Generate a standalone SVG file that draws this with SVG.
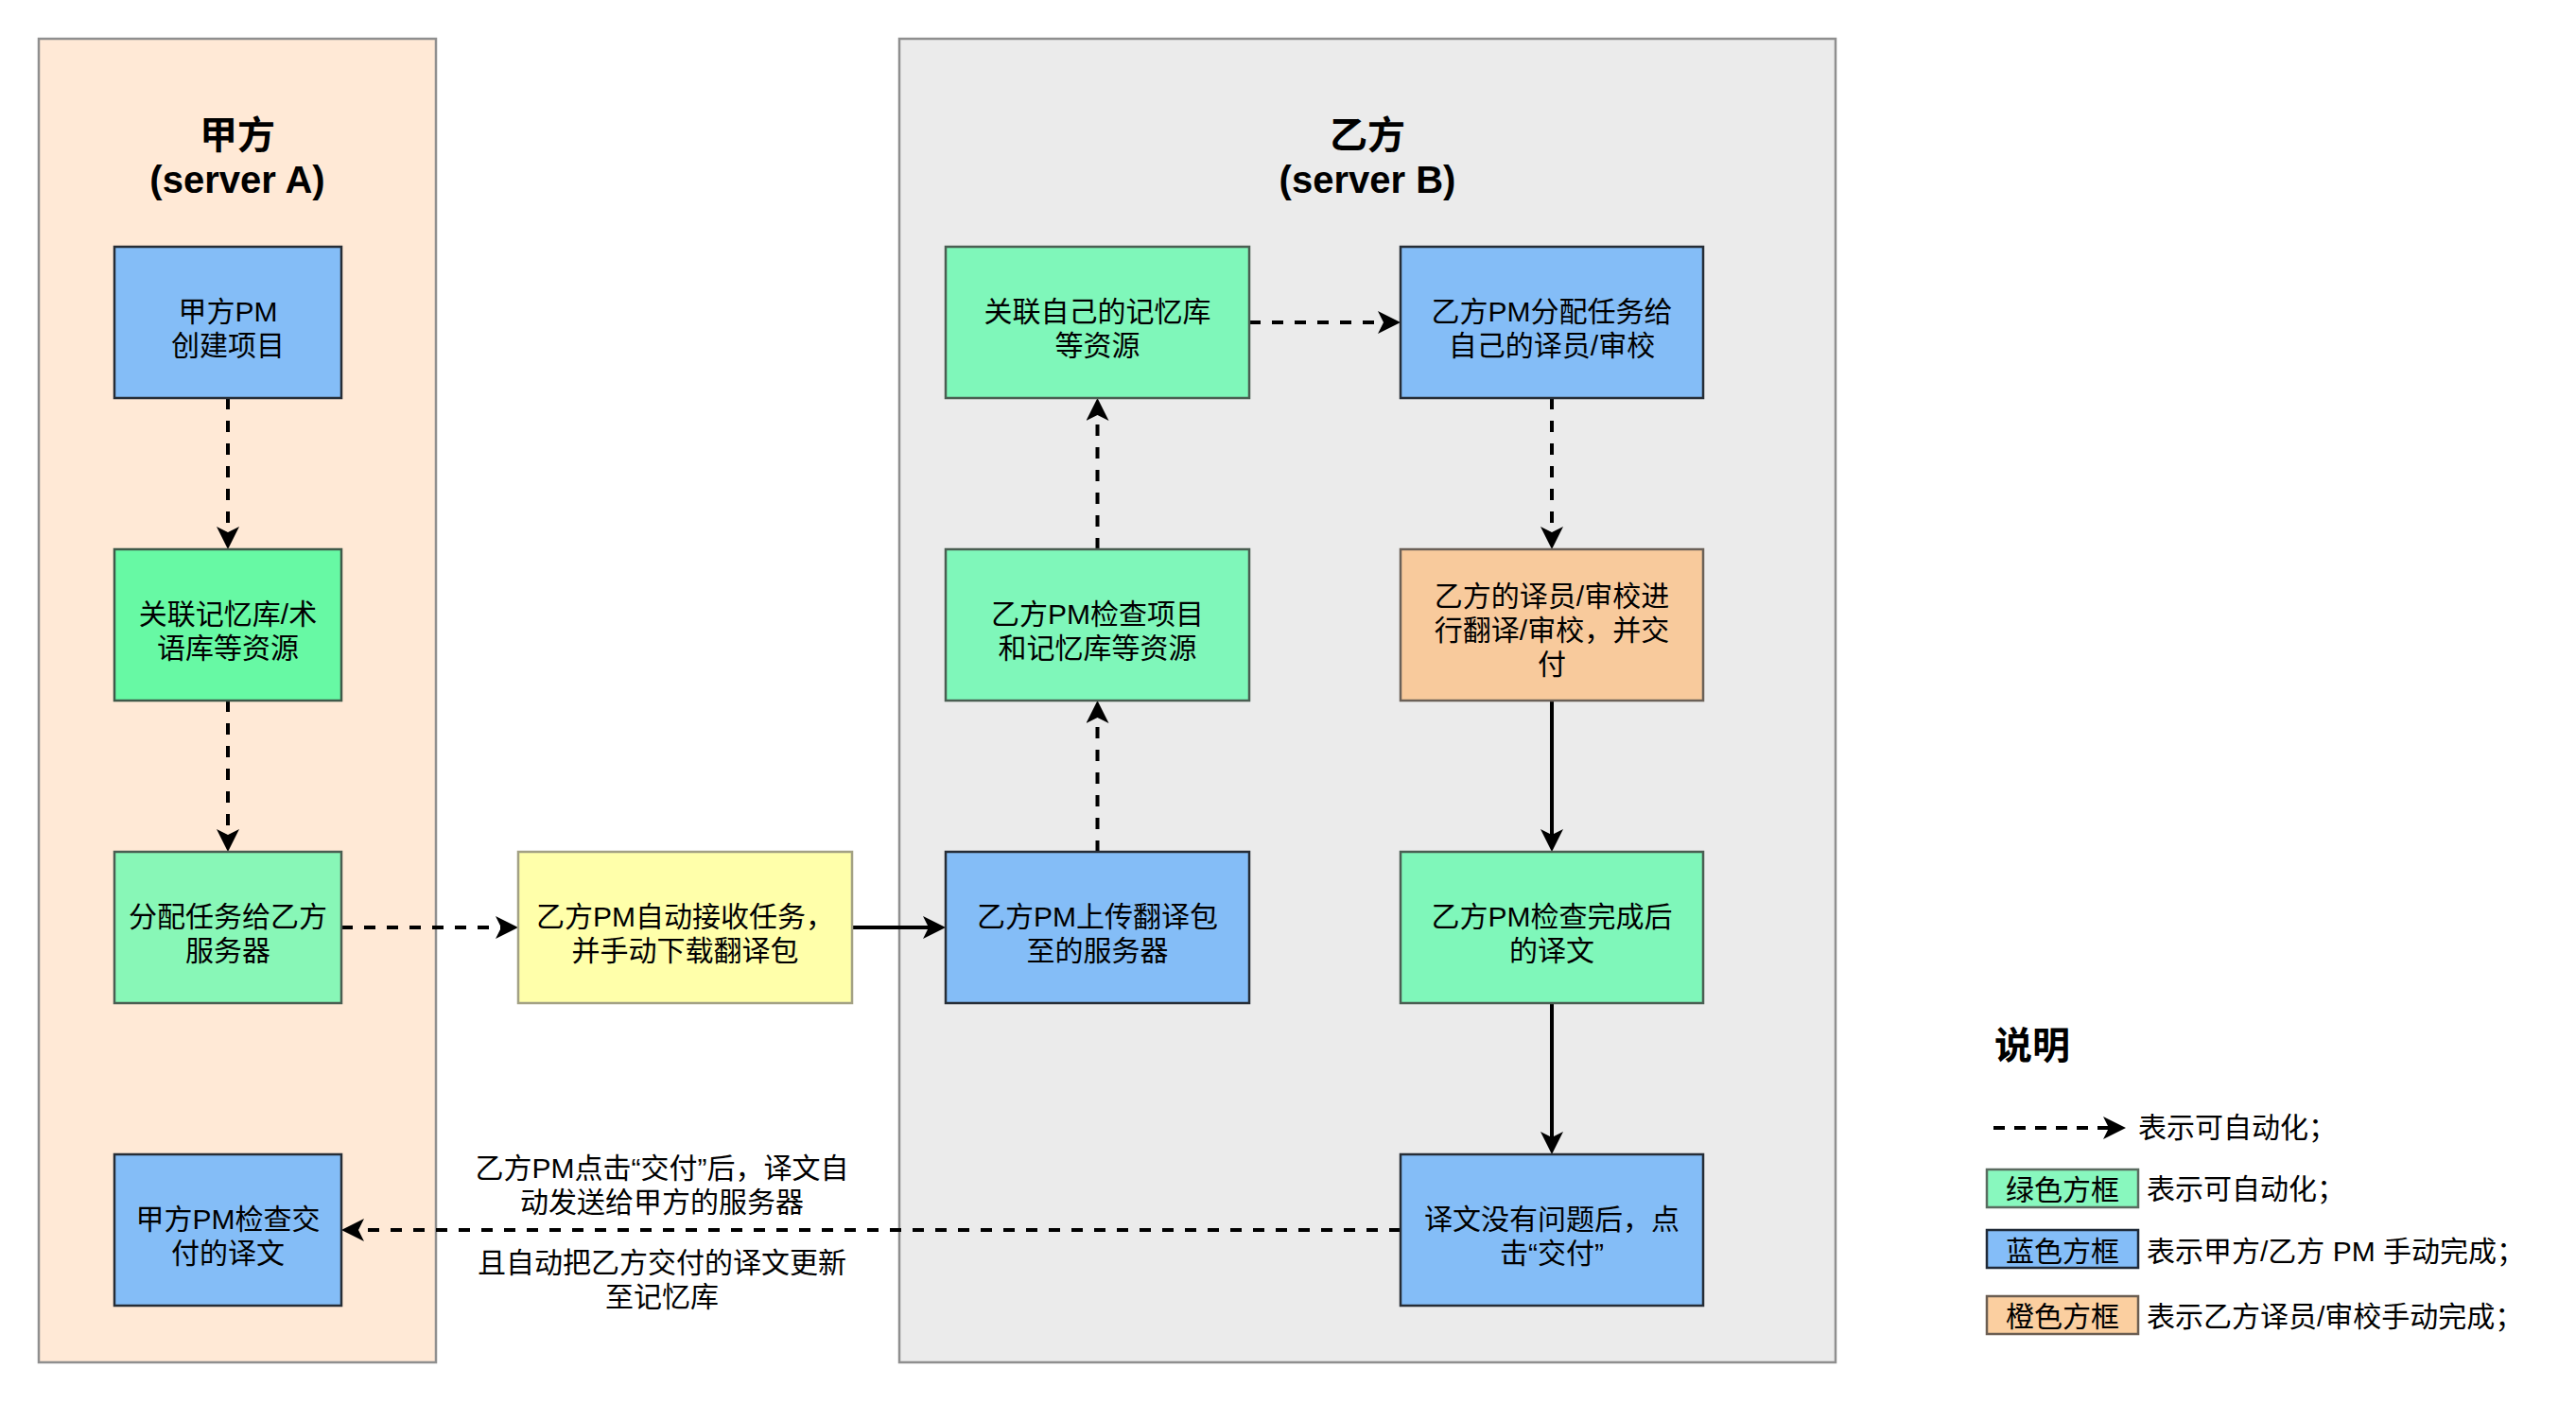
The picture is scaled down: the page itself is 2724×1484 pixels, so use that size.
<svg xmlns="http://www.w3.org/2000/svg" width="2724" height="1484" viewBox="0 0 2724 1484">
<defs>
<style>
.t{font-family:"Liberation Sans","Noto Sans CJK SC",sans-serif;font-size:30px;fill:#000;text-anchor:middle}
.tl{font-family:"Liberation Sans","Noto Sans CJK SC",sans-serif;font-size:30px;fill:#000}
.h{font-family:"Liberation Sans","Noto Sans CJK SC",sans-serif;font-size:40px;font-weight:bold;fill:#000;text-anchor:middle}
.cont{stroke:#8f8f8f;stroke-width:2.5}
.blue{fill:#84bdf7;stroke:#262d36;stroke-width:2.5}
.green{fill:#7ff7ba;stroke:#4a5e52;stroke-width:2.5}
.green2{fill:#67f9a4;stroke:#3f5a4a;stroke-width:2.5}
.green3{fill:#88f7b7;stroke:#4a5e52;stroke-width:2.5}
.orange{fill:#f8ca9c;stroke:#6b6158;stroke-width:2.5}
.yellow{fill:#ffffaa;stroke:#a3a184;stroke-width:2.5}
.e{fill:none;stroke:#000;stroke-width:4}
.d{stroke-dasharray:12 12}
</style>
<marker id="arr" viewBox="0 0 24 24" markerUnits="userSpaceOnUse" markerWidth="24" markerHeight="24" refX="6" refY="12" orient="auto">
<path d="M0,0 L24,12 L0,24 L6,12 Z" fill="#000"/>
</marker>
</defs>
<rect width="2724" height="1484" fill="#fff"/>

<g id="containerA">
<rect class="cont" x="41" y="41" width="420" height="1400" fill="#ffe9d6"/>
<text class="h" x="251" y="157">甲方</text>
<text class="h" x="251" y="204">(server A)</text>
</g>
<g id="containerB">
<rect class="cont" x="951" y="41" width="990" height="1400" fill="#ebebeb"/>
<text class="h" x="1446" y="157">乙方</text>
<text class="h" x="1446" y="204">(server B)</text>
</g>

<g id="connectors">
<path class="e d" d="M241,421 V563" marker-end="url(#arr)"/>
<path class="e d" d="M241,741 V883" marker-end="url(#arr)"/>
<path class="e d" d="M361,981 H530" marker-end="url(#arr)"/>
<path class="e" d="M901,981 H982" marker-end="url(#arr)"/>
<path class="e d" d="M1160.5,901 V759" marker-end="url(#arr)"/>
<path class="e d" d="M1160.5,581 V439" marker-end="url(#arr)"/>
<path class="e d" d="M1321,341 H1463" marker-end="url(#arr)"/>
<path class="e d" d="M1641,421 V563" marker-end="url(#arr)"/>
<path class="e" d="M1641,741 V883" marker-end="url(#arr)"/>
<path class="e" d="M1641,1061 V1203" marker-end="url(#arr)"/>
<path class="e d" d="M1481,1301 H379" marker-end="url(#arr)"/>
<g id="edgeLabel">
<text class="t" x="700" y="1246">乙方PM点击“交付”后，译文自</text>
<text class="t" x="700" y="1282">动发送给甲方的服务器</text>
<text class="t" x="700" y="1346">且自动把乙方交付的译文更新</text>
<text class="t" x="700" y="1382">至记忆库</text>
</g>
</g>

<g id="a1">
<rect class="blue" x="121" y="261" width="240" height="160"/>
<text class="t" x="241" y="340">甲方PM</text>
<text class="t" x="241" y="376">创建项目</text>
</g>
<g id="a2">
<rect class="green2" x="121" y="581" width="240" height="160"/>
<text class="t" x="241" y="660">关联记忆库/术</text>
<text class="t" x="241" y="696">语库等资源</text>
</g>
<g id="a3">
<rect class="green3" x="121" y="901" width="240" height="160"/>
<text class="t" x="241" y="980">分配任务给乙方</text>
<text class="t" x="241" y="1016">服务器</text>
</g>
<g id="a4">
<rect class="blue" x="121" y="1221" width="240" height="160"/>
<text class="t" x="241" y="1300">甲方PM检查交</text>
<text class="t" x="241" y="1336">付的译文</text>
</g>
<g id="y1">
<rect class="yellow" x="548" y="901" width="353" height="160"/>
<text class="t" x="724.5" y="980">乙方PM自动接收任务，</text>
<text class="t" x="724.5" y="1016">并手动下载翻译包</text>
</g>
<g id="b1">
<rect class="green" x="1000" y="261" width="321" height="160"/>
<text class="t" x="1160.5" y="340">关联自己的记忆库</text>
<text class="t" x="1160.5" y="376">等资源</text>
</g>
<g id="b2">
<rect class="blue" x="1481" y="261" width="320" height="160"/>
<text class="t" x="1641" y="340">乙方PM分配任务给</text>
<text class="t" x="1641" y="376">自己的译员/审校</text>
</g>
<g id="b3">
<rect class="green" x="1000" y="581" width="321" height="160"/>
<text class="t" x="1160.5" y="660">乙方PM检查项目</text>
<text class="t" x="1160.5" y="696">和记忆库等资源</text>
</g>
<g id="b4">
<rect class="orange" x="1481" y="581" width="320" height="160"/>
<text class="t" x="1641" y="641">乙方的译员/审校进</text>
<text class="t" x="1641" y="677">行翻译/审校，并交</text>
<text class="t" x="1641" y="713">付</text>
</g>
<g id="b5">
<rect class="blue" x="1000" y="901" width="321" height="160"/>
<text class="t" x="1160.5" y="980">乙方PM上传翻译包</text>
<text class="t" x="1160.5" y="1016">至的服务器</text>
</g>
<g id="b6">
<rect class="green" x="1481" y="901" width="320" height="160"/>
<text class="t" x="1641" y="980">乙方PM检查完成后</text>
<text class="t" x="1641" y="1016">的译文</text>
</g>
<g id="b7">
<rect class="blue" x="1481" y="1221" width="320" height="160"/>
<text class="t" x="1641" y="1300">译文没有问题后，点</text>
<text class="t" x="1641" y="1336">击“交付”</text>
</g>

<g id="legend">
<text class="h" x="2109" y="1120" style="text-anchor:start">说明</text>
<path class="e" d="M2108,1193 H2230" stroke-dasharray="12 10" marker-end="url(#arr)"/>
<text class="tl" x="2261" y="1203">表示可自动化；</text>
<rect x="2101" y="1237" width="160" height="40" fill="#88f8be" stroke="#5a6b60" stroke-width="2.5"/>
<text class="t" x="2181" y="1269">绿色方框</text>
<text class="tl" x="2270" y="1268">表示可自动化；</text>
<rect x="2101" y="1301" width="160" height="40" fill="#84bdf8" stroke="#1f2937" stroke-width="2.5"/>
<text class="t" x="2181" y="1334">蓝色方框</text>
<text class="tl" x="2270" y="1334">表示甲方/乙方 PM 手动完成；</text>
<rect x="2101" y="1371" width="160" height="40" fill="#fbcfa0" stroke="#6b5e52" stroke-width="2.5"/>
<text class="t" x="2181" y="1403">橙色方框</text>
<text class="tl" x="2270" y="1403">表示乙方译员/审校手动完成；</text>
</g>
</svg>
